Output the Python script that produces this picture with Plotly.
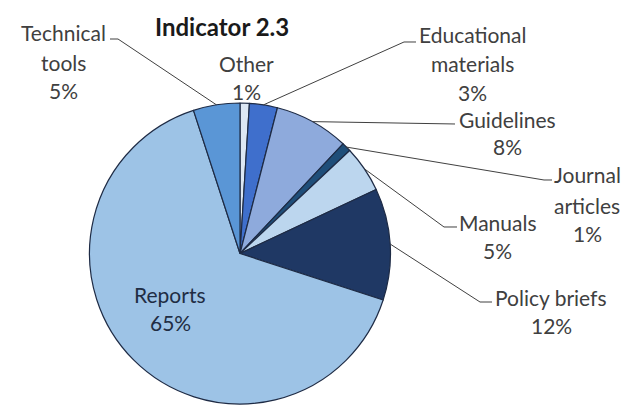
import math
import plotly.graph_objects as go

W, H = 625, 405

categories = ["Other", "Educational materials", "Guidelines", "Journal articles",
              "Manuals", "Policy briefs", "Reports", "Technical tools"]
values = [1, 3, 8, 1, 5, 12, 65, 5]
colors = ["#DCE7F4", "#3F6FCC", "#8EAADC", "#1F4E79",
          "#BCD6EE", "#1F3864", "#9DC3E6", "#5A96D6"]
label_lines = {
    "Other": ["Other", "1%"],
    "Educational materials": ["Educational", "materials", "3%"],
    "Guidelines": ["Guidelines", "8%"],
    "Journal articles": ["Journal", "articles", "1%"],
    "Manuals": ["Manuals", "5%"],
    "Policy briefs": ["Policy briefs", "12%"],
    "Reports": ["Reports", "65%"],
    "Technical tools": ["Technical", "tools", "5%"],
}
title_text = "Indicator 2.3"

# layout (pixels)
CX, CY, R = 240, 253.5, 150.5
label_pos = {  # (x centre, [y of each line])
    "Other": (246, [63, 91]),
    "Educational materials": (472, [35, 64, 92]),
    "Guidelines": (507, [119, 146]),
    "Journal articles": (587, [175, 205, 233]),
    "Manuals": (498, [222, 250]),
    "Policy briefs": (551, [297, 325]),
    "Reports": (170, [294, 322]),
    "Technical tools": (63, [32, 62, 90]),
}
leader_path = {  # elbow and end points of leader lines
    "Technical tools": [(118, 39), (110, 39)],
    "Educational materials": [(404, 42), (416, 42)],
    "Guidelines": [(455, 124)],
    "Journal articles": [(544, 180), (552, 180)],
    "Manuals": [(444, 227), (457, 227)],
    "Policy briefs": [(480, 302), (492, 302)],
}

def px(x):
    return x / W

def py(y):
    return 1 - y / H

fig = go.Figure(go.Pie(
    labels=categories, values=values, sort=False, direction="clockwise",
    rotation=0, textinfo="none", hoverinfo="label+percent",
    marker=dict(colors=colors, line=dict(color="#1E2B45", width=1.2)),
    domain=dict(x=[px(CX - R), px(CX + R)], y=[py(CY + R), py(CY - R)]),
    showlegend=False,
))

annotations = []
font_family = "Lato, 'Open Sans', sans-serif"
for cat in categories:
    x, ys = label_pos[cat]
    col = "#1F2D44" if cat == "Reports" else "#404040"
    for line, y in zip(label_lines[cat], ys):
        annotations.append(dict(
            x=px(x), y=py(y), xref="paper", yref="paper", text=line,
            showarrow=False, xanchor="center", yanchor="middle",
            font=dict(family=font_family, size=21, color=col)))
annotations.append(dict(
    x=px(222), y=py(26), xref="paper", yref="paper", text="<b>" + title_text + "</b>",
    showarrow=False, xanchor="center", yanchor="middle",
    font=dict(family=font_family, size=24, color="#1a1a1a")))

# leader lines, starting at slice edge midpoints computed from values
total = sum(values)
shapes = []
cum = 0
for cat, v in zip(categories, values):
    mid = (cum + v / 2) / total * 2 * math.pi
    cum += v
    if cat not in leader_path:
        continue
    ex = CX + R * math.sin(mid)
    ey = CY - R * math.cos(mid)
    pts = [(ex, ey)] + leader_path[cat]
    path = "M " + " L ".join(f"{px(a):.5f},{py(b):.5f}" for a, b in pts)
    shapes.append(dict(type="path", path=path, xref="paper", yref="paper",
                       line=dict(color="#404040", width=1)))

fig.update_layout(
    width=W, height=H, margin=dict(l=0, r=0, t=0, b=0),
    paper_bgcolor="white", plot_bgcolor="white",
    annotations=annotations, shapes=shapes,
)
fig.write_html("out.html")
